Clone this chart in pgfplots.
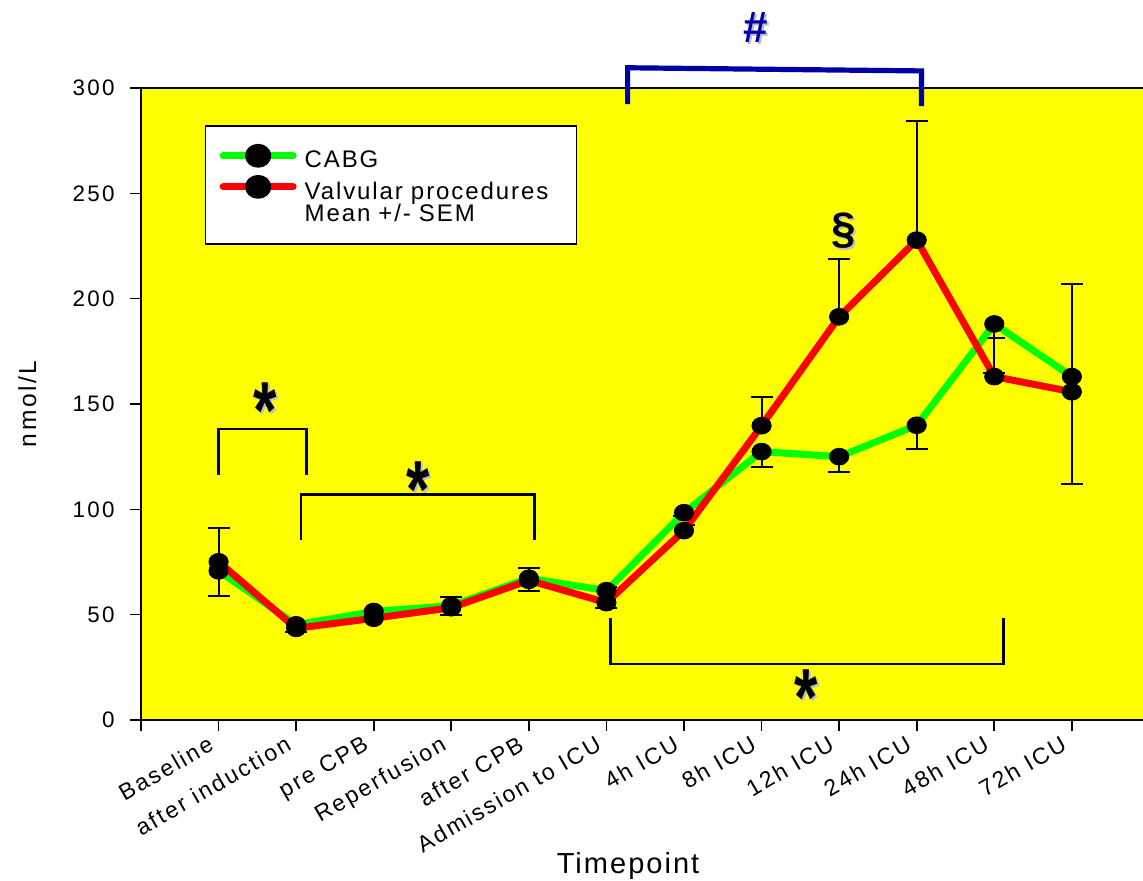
\documentclass[border=0pt]{standalone}
\usepackage{pgfplots}
\pgfplotsset{compat=1.18}
\usepackage{pgfplotstable}
\usepackage{graphicx}
\usepackage{fontspec}
\setmainfont{Liberation Sans}
\newfontfamily\spc[LetterSpace=10]{Liberation Sans}
\newfontfamily\spcl[LetterSpace=8]{Liberation Sans}
\newfontfamily\spcb[LetterSpace=7]{Liberation Sans}
\definecolor{cgreen}{RGB}{0,255,0}
\definecolor{cred}{RGB}{255,0,0}
\definecolor{cyellow}{RGB}{255,255,0}
\definecolor{cblue}{RGB}{0,0,170}
\definecolor{cshadow}{RGB}{190,190,190}

\pgfplotstableread{
x g r
0 70.8 75.1
1 45.2 43.5
2 51.5 48.3
3 54.3 53.3
4 67.3 66.3
5 61.4 55.7
6 98.4 89.9
7 127.4 139.7
8 125.0 191.4
9 139.9 227.8
10 188.0 163.0
11 163.0 155.8
}\means

\pgfplotstableread{
x y e
0 75.1 15.9
1 45.2 1.8
3 54.3 3.9
4 67.3 5.0
5 61.4 1.5
6 89.9 2.7
7 139.7 13.8
8 191.4 27.4
9 227.8 56.5
10 163.0 18.2
11 163.0 43.9
}\errup

\pgfplotstableread{
x y e
0 70.8 11.8
1 43.5 1.6
3 53.3 3.5
4 66.3 4.9
5 55.7 2.4
6 98.4 1.6
7 127.4 7.2
8 125.0 7.4
9 139.9 11.1
10 188.0 23.1
11 155.8 43.6
}\errdown

\newcommand{\sigstar}[2]{%
  \node[anchor=north, inner sep=0pt, text=cshadow, font=\bfseries\fontsize{30}{30}\selectfont] at ([xshift=1pt,yshift=-1pt]axis cs:#1,#2) {\scalebox{1}[1.35]{*}};
  \node[anchor=north, inner sep=0pt, text=black, font=\bfseries\fontsize{30}{30}\selectfont] at (axis cs:#1,#2) {\scalebox{1}[1.35]{*}};
}

\begin{document}
\begin{tikzpicture}
\begin{axis}[
  scale only axis, width=504.2pt, height=316pt,
  xmin=-1, xmax=12, ymin=0, ymax=300,
  axis background/.style={fill=cyellow},
  axis line style={line width=0.8pt},
  tick align=outside, tick pos=left,
  major tick length=5.5pt,
  every tick/.style={black, line width=0.8pt},
  xtick={-1,0,...,11},
  xticklabels={{},Baseline,after induction,pre CPB,Reperfusion,after CPB,Admission to ICU,4h ICU,8h ICU,12h ICU,24h ICU,48h ICU,72h ICU},
  ytick={0,50,...,300},
  /pgf/number format/assume math mode=true,
  xticklabel style={font=\spc\fontsize{11.5}{13}\selectfont, rotate=30, anchor=north east, inner sep=1pt, xshift=-5pt, yshift=2.5pt},
  yticklabel style={font=\spc\fontsize{11.2}{13}\selectfont, anchor=east, inner sep=0pt, xshift=-7.5pt},
  ylabel={nmol/L}, xlabel={Timepoint},
  ylabel style={at={(axis description cs:-0.1126,0.5)}, anchor=center, font=\spc\fontsize{12.3}{14}\selectfont},
  xlabel style={at={(axis description cs:0.483,-0.2421)}, anchor=base, font=\spcb\fontsize{14.5}{16}\selectfont},
  clip=false,
  legend style={at={(axis cs:-0.177,282.4)}, anchor=north west, draw=black, line width=0.8pt, fill=white,
    inner xsep=7pt, inner ysep=9pt, row sep=1pt, font=\spcl\fontsize{12}{13}\selectfont,
    nodes={inner sep=0pt, text height=0.75em, text depth=0.25em},
    /tikz/every odd column/.append style={column sep=4pt},
    /tikz/every even column/.append style={text width=129pt}},
  legend cell align=left,
  legend image code/.code={
    \draw[#1, line width=3.5pt, line cap=round] (0pt,0.36em) -- (35pt,0.36em);
    \fill[black] (17.5pt,0.36em) ellipse[x radius=4.8pt, y radius=4.2pt];
  },
]
\coordinate (SW) at (rel axis cs:0,0);

% error bars
\addplot[forget plot, only marks, mark=none, error bars/.cd, y dir=plus, y explicit,
  error bar style={black, line width=1pt},
  error mark options={black, rotate=90, mark size=5.5pt, line width=1pt}]
  table[x=x, y=y, y error=e] {\errup};
\addplot[forget plot, only marks, mark=none, error bars/.cd, y dir=minus, y explicit,
  error bar style={black, line width=1pt},
  error mark options={black, rotate=90, mark size=5.5pt, line width=1pt}]
  table[x=x, y=y, y error=e] {\errdown};

% lines
\addplot[cgreen, line width=3.5pt, line join=round, mark=none] table[x=x, y=g] {\means};
\addlegendentry{CABG}
\addplot[cred, line width=3.5pt, line join=round, mark=none] table[x=x, y=r] {\means};
\addlegendentry{Valvular procedures}
\addlegendimage{empty legend}
\addlegendentry{Mean +/- SEM}

% markers
\addplot[forget plot, only marks, mark=*, mark size=4.2pt, mark options={black, fill=black, xscale=1.15}] table[x=x, y=g] {\means};
\addplot[forget plot, only marks, mark=*, mark size=4.2pt, mark options={black, fill=black, xscale=1.15}] table[x=x, y=r] {\means};

% significance brackets
\draw[black, line width=1.3pt] (axis cs:0,116.3) -- (axis cs:0,138.1) -- (axis cs:1.135,138.1) -- (axis cs:1.135,116.3);
\draw[black, line width=1.3pt] (axis cs:1.061,85.4) -- (axis cs:1.061,107.1) -- (axis cs:4.069,107.1) -- (axis cs:4.069,85.4);
\draw[black, line width=1.3pt] (axis cs:5.051,48.4) -- (axis cs:5.051,26.6) -- (axis cs:10.12,26.6) -- (axis cs:10.12,48.4);
\draw[cblue, line width=2.6pt] (axis cs:5.273,292.4) -- (axis cs:5.273,309.6) -- (axis cs:9.063,308.1) -- (axis cs:9.063,291.4);

% symbols
\sigstar{0.597}{160.5}
\sigstar{2.573}{122.6}
\sigstar{7.57}{24.2}
\node[anchor=north, inner sep=0pt, text=cshadow, font=\bfseries\fontsize{22}{22}\selectfont] at ([xshift=1pt,yshift=-1pt]axis cs:8.055,240.7) {\S};
\node[anchor=north, inner sep=0pt, text=black, font=\bfseries\fontsize{22}{22}\selectfont] at (axis cs:8.055,240.7) {\S};
\node[anchor=north, inner sep=0pt, text=cshadow, font=\bfseries\fontsize{22}{22}\selectfont] at ([xshift=1pt,yshift=-1pt]axis cs:6.93,336.2) {\#};
\node[anchor=north, inner sep=0pt, text=cblue, font=\bfseries\fontsize{22}{22}\selectfont] at (axis cs:6.93,336.2) {\#};
\end{axis}
\pgfresetboundingbox
\path[use as bounding box] (SW) ++(-70.5pt,-80.5pt) rectangle ++(571.5pt,440.5pt);
\end{tikzpicture}
\end{document}
